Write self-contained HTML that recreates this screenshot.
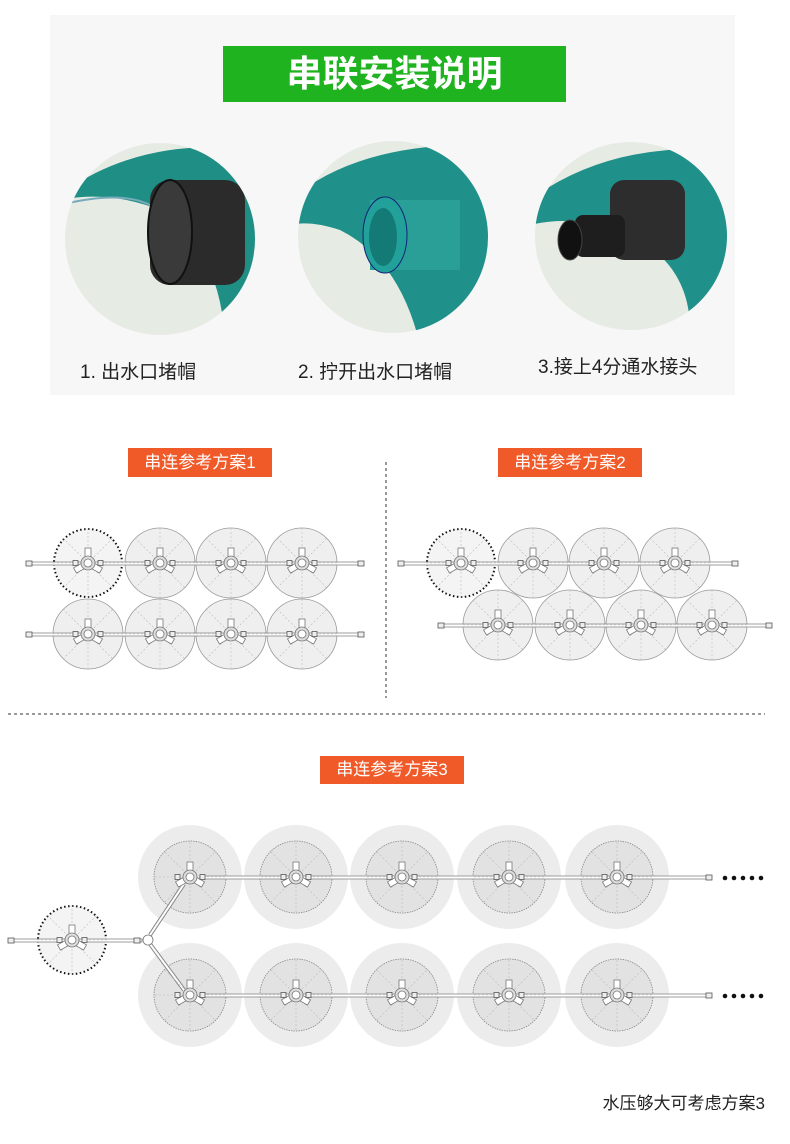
<!DOCTYPE html>
<html><head><meta charset="utf-8"><style>
html,body{margin:0;padding:0;background:#fff;}
body{width:790px;height:1144px;position:relative;overflow:hidden;font-family:"Liberation Sans","Noto Sans CJK SC",sans-serif;}
.t{position:absolute;white-space:nowrap;}
</style></head><body>
<svg width="790" height="1144" viewBox="0 0 790 1144" xmlns="http://www.w3.org/2000/svg" style="position:absolute;left:0;top:0">
<defs>
<symbol id="sp" viewBox="-40 -40 80 80" overflow="visible">
  <g stroke="#bbb" stroke-width="0.6" stroke-dasharray="2 2">
    <line x1="0" y1="-35" x2="0" y2="35"/><line x1="-35" y1="0" x2="35" y2="0"/>
    <line x1="-25" y1="-25" x2="25" y2="25"/><line x1="-25" y1="25" x2="25" y2="-25"/>
  </g>
  <rect x="-3" y="-15" width="6" height="11" fill="#fff" stroke="#777" stroke-width="0.8"/>
  <rect x="-3" y="-15" width="6" height="11" fill="#fff" stroke="#777" stroke-width="0.8" transform="rotate(120)"/>
  <rect x="-3" y="-15" width="6" height="11" fill="#fff" stroke="#777" stroke-width="0.8" transform="rotate(240)"/>
  <circle r="7" fill="#ddd" stroke="#777" stroke-width="0.8"/>
  <circle r="4" fill="#fff" stroke="#777" stroke-width="0.8"/>
  <rect x="-15" y="-2.5" width="5" height="5" fill="#eee" stroke="#555" stroke-width="0.8"/>
  <rect x="10" y="-2.5" width="5" height="5" fill="#eee" stroke="#555" stroke-width="0.8"/>
</symbol>
<clipPath id="c1"><ellipse cx="160" cy="239" rx="95" ry="96"/></clipPath>
<clipPath id="c2"><ellipse cx="393" cy="237" rx="95" ry="96"/></clipPath>
<clipPath id="c3"><ellipse cx="631" cy="236" rx="96" ry="94"/></clipPath>
</defs>
<rect x="50" y="15" width="685" height="380" fill="#f7f7f7"/>
<rect x="223" y="46" width="343" height="56" fill="#1fb320"/>
<!-- photo 1 -->
<g clip-path="url(#c1)">
  <rect x="60" y="140" width="200" height="200" fill="#e6ebe4"/>
  <path d="M60 195 Q140 135 260 150 L260 340 L225 340 Q220 250 160 210 Q110 190 60 200Z" fill="#1f8f86"/>
  <path d="M60 205 Q120 190 150 205" stroke="#7ab" stroke-width="2" fill="none"/>
  <rect x="150" y="180" width="95" height="105" rx="20" fill="#2b2b2b"/>
  <ellipse cx="170" cy="232" rx="22" ry="52" fill="#3a3a3a" stroke="#111" stroke-width="2"/>
</g>
<!-- photo 2 -->
<g clip-path="url(#c2)">
  <rect x="290" y="135" width="205" height="210" fill="#e6ebe4"/>
  <path d="M290 200 Q360 140 495 145 L495 345 L420 345 Q400 260 340 230 Q310 220 290 225Z" fill="#20908a"/>
  <rect x="370" y="200" width="90" height="70" fill="#2a9f98"/>
  <ellipse cx="385" cy="235" rx="22" ry="38" fill="#22a19b" stroke="#127" stroke-width="1"/>
  <ellipse cx="383" cy="237" rx="14" ry="29" fill="#137a75"/>
</g>
<!-- photo 3 -->
<g clip-path="url(#c3)">
  <rect x="530" y="140" width="205" height="195" fill="#e6ebe4"/>
  <path d="M530 200 Q610 140 735 150 L735 330 L690 330 Q690 260 620 230 Q570 215 530 225Z" fill="#20908a"/>
  <rect x="610" y="180" width="75" height="80" rx="14" fill="#2d2d2d"/>
  <rect x="575" y="215" width="50" height="42" rx="8" fill="#1e1e1e"/>
  <ellipse cx="570" cy="240" rx="12" ry="20" fill="#111" stroke="#444"/>
</g>
<!-- separators -->
<line x1="386" y1="462" x2="386" y2="698" stroke="#333" stroke-width="1" stroke-dasharray="3 3"/>
<line x1="8" y1="714" x2="765" y2="714" stroke="#333" stroke-width="1" stroke-dasharray="3 3"/>
<rect x="128" y="448" width="144" height="29" fill="#f05a28"/>
<rect x="498" y="448" width="144" height="29" fill="#f05a28"/>
<rect x="320" y="756" width="144" height="28" fill="#f05a28"/>
<!-- scheme 1 -->
<g fill="#efefef" stroke="#999" stroke-width="0.8">
 <circle cx="160" cy="563" r="35"/><circle cx="231" cy="563" r="35"/><circle cx="302" cy="563" r="35"/>
 <circle cx="88" cy="634" r="35"/><circle cx="160" cy="634" r="35"/><circle cx="231" cy="634" r="35"/><circle cx="302" cy="634" r="35"/>
 <circle cx="533" cy="563" r="35"/><circle cx="604" cy="563" r="35"/><circle cx="675" cy="563" r="35"/>
 <circle cx="498" cy="625" r="35"/><circle cx="570" cy="625" r="35"/><circle cx="641" cy="625" r="35"/><circle cx="712" cy="625" r="35"/>
</g>
<g fill="#f4f4f4" stroke="#111" stroke-width="2" stroke-dasharray="1.5 2.5">
 <circle cx="88" cy="563" r="34"/><circle cx="461" cy="563" r="34"/><circle cx="72" cy="940" r="34"/>
</g>
<g fill="#fff" stroke="#888" stroke-width="0.8">
 <rect x="30" y="562" width="330" height="3"/><rect x="30" y="633" width="330" height="3"/>
 <rect x="402" y="562" width="332" height="3"/><rect x="442" y="624" width="326" height="3"/>
</g>
<g fill="#eee" stroke="#555" stroke-width="0.8">
 <rect x="26" y="561" width="6" height="5"/><rect x="358" y="561" width="6" height="5"/>
 <rect x="26" y="632" width="6" height="5"/><rect x="358" y="632" width="6" height="5"/>
 <rect x="398" y="561" width="6" height="5"/><rect x="732" y="561" width="6" height="5"/>
 <rect x="438" y="623" width="6" height="5"/><rect x="766" y="623" width="6" height="5"/>
</g>
<use href="#sp" x="48" y="523" width="80" height="80"/><use href="#sp" x="120" y="523" width="80" height="80"/><use href="#sp" x="191" y="523" width="80" height="80"/><use href="#sp" x="262" y="523" width="80" height="80"/>
<use href="#sp" x="48" y="594" width="80" height="80"/><use href="#sp" x="120" y="594" width="80" height="80"/><use href="#sp" x="191" y="594" width="80" height="80"/><use href="#sp" x="262" y="594" width="80" height="80"/>
<use href="#sp" x="421" y="523" width="80" height="80"/><use href="#sp" x="493" y="523" width="80" height="80"/><use href="#sp" x="564" y="523" width="80" height="80"/><use href="#sp" x="635" y="523" width="80" height="80"/>
<use href="#sp" x="458" y="585" width="80" height="80"/><use href="#sp" x="530" y="585" width="80" height="80"/><use href="#sp" x="601" y="585" width="80" height="80"/><use href="#sp" x="672" y="585" width="80" height="80"/>
<!-- scheme 3 -->
<g fill="#ececec">
 <circle cx="190" cy="877" r="52"/><circle cx="296" cy="877" r="52"/><circle cx="402" cy="877" r="52"/><circle cx="509" cy="877" r="52"/><circle cx="617" cy="877" r="52"/>
 <circle cx="190" cy="995" r="52"/><circle cx="296" cy="995" r="52"/><circle cx="402" cy="995" r="52"/><circle cx="509" cy="995" r="52"/><circle cx="617" cy="995" r="52"/>
</g>
<g fill="#e2e2e2" stroke="#888" stroke-width="0.8" stroke-dasharray="1.5 1">
 <circle cx="190" cy="877" r="36"/><circle cx="296" cy="877" r="36"/><circle cx="402" cy="877" r="36"/><circle cx="509" cy="877" r="36"/><circle cx="617" cy="877" r="36"/>
 <circle cx="190" cy="995" r="36"/><circle cx="296" cy="995" r="36"/><circle cx="402" cy="995" r="36"/><circle cx="509" cy="995" r="36"/><circle cx="617" cy="995" r="36"/>
</g>
<g fill="#fff" stroke="#888" stroke-width="0.8">
 <rect x="200" y="876" width="508" height="3"/><rect x="200" y="994" width="508" height="3"/>
 <rect x="12" y="939" width="130" height="3"/>
 <line x1="150" y1="935" x2="184" y2="884" stroke-width="4" stroke="#888"/>
 <line x1="150" y1="944" x2="184" y2="990" stroke-width="4" stroke="#888"/>
</g>
<line x1="150" y1="935" x2="184" y2="884" stroke-width="2" stroke="#fff"/>
<line x1="150" y1="944" x2="184" y2="990" stroke-width="2" stroke="#fff"/>
<g fill="#fff" stroke="#777" stroke-width="0.8"><circle cx="148" cy="940" r="5"/></g>
<g fill="#eee" stroke="#555" stroke-width="0.8">
 <rect x="8" y="938" width="6" height="5"/><rect x="134" y="938" width="6" height="5"/>
 <rect x="706" y="875" width="6" height="5"/><rect x="706" y="993" width="6" height="5"/>
</g>
<use href="#sp" x="32" y="900" width="80" height="80"/>
<use href="#sp" x="150" y="837" width="80" height="80"/><use href="#sp" x="256" y="837" width="80" height="80"/><use href="#sp" x="362" y="837" width="80" height="80"/><use href="#sp" x="469" y="837" width="80" height="80"/><use href="#sp" x="577" y="837" width="80" height="80"/>
<use href="#sp" x="150" y="955" width="80" height="80"/><use href="#sp" x="256" y="955" width="80" height="80"/><use href="#sp" x="362" y="955" width="80" height="80"/><use href="#sp" x="469" y="955" width="80" height="80"/><use href="#sp" x="577" y="955" width="80" height="80"/>
<g fill="#111"><circle cx="725" cy="878" r="2.3"/><circle cx="734" cy="878" r="2.3"/><circle cx="743" cy="878" r="2.3"/><circle cx="752" cy="878" r="2.3"/><circle cx="761" cy="878" r="2.3"/>
<circle cx="725" cy="996" r="2.3"/><circle cx="734" cy="996" r="2.3"/><circle cx="743" cy="996" r="2.3"/><circle cx="752" cy="996" r="2.3"/><circle cx="761" cy="996" r="2.3"/></g>
</svg>
<div class="t" style="left:223px;top:49px;width:343px;text-align:center;color:#fff;font-size:36px;font-weight:bold;line-height:50px;">串联安装说明</div>
<div class="t" style="left:80px;top:357px;font-size:19px;color:#222;">1. 出水口堵帽</div>
<div class="t" style="left:298px;top:357px;font-size:19px;color:#222;">2. 拧开出水口堵帽</div>
<div class="t" style="left:538px;top:352px;font-size:19px;color:#222;">3.接上4分通水接头</div>
<div class="t" style="left:128px;top:448px;width:144px;text-align:center;color:#fff;font-size:17px;line-height:29px;">串连参考方案1</div>
<div class="t" style="left:498px;top:448px;width:144px;text-align:center;color:#fff;font-size:17px;line-height:29px;">串连参考方案2</div>
<div class="t" style="left:320px;top:756px;width:144px;text-align:center;color:#fff;font-size:17px;line-height:28px;">串连参考方案3</div>
<div class="t" style="right:25px;top:1089px;font-size:17px;color:#222;">水压够大可考虑方案3</div>
</body></html>
